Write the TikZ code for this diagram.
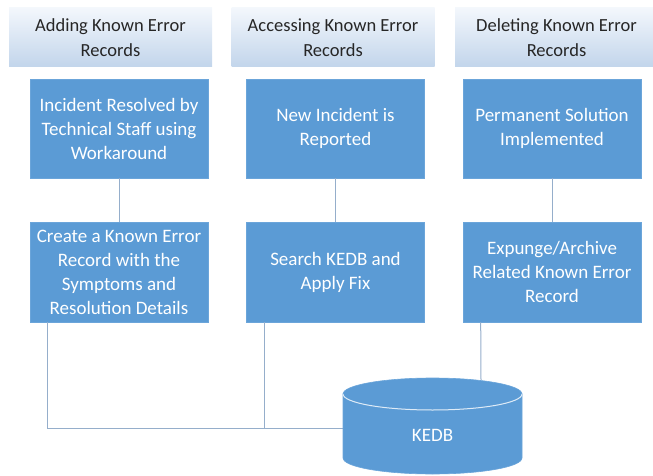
\documentclass[tikz,border=0pt]{standalone}
\usepackage{fontspec}
\setmainfont{Carlito}
\definecolor{boxblue}{HTML}{5B9BD5}
\definecolor{boxedge}{HTML}{6BA5DA}
\definecolor{hdrtop}{HTML}{F3F7FC}
\definecolor{hdrbot}{HTML}{C2D5EB}
\definecolor{linecol}{HTML}{95AECB}
\definecolor{hdrtext}{HTML}{262626}
\begin{document}
\begin{tikzpicture}[x=1pt,y=-1pt,
  hdr/.style={rectangle, minimum width=203pt, minimum height=59pt, inner sep=0pt,
    top color=hdrtop, bottom color=hdrbot, text=hdrtext, align=center,
    font=\fontsize{18.5}{25}\selectfont},
  stepbox/.style={rectangle, fill=boxblue, draw=boxedge, line width=0.6pt,
    minimum width=178pt, inner sep=0pt, text=white, align=center,
    font=\fontsize{19}{24}\selectfont},
  conn/.style={draw=linecol, line width=1pt},
  cyl/.style={fill=boxblue, draw=boxedge, line width=0.6pt}]
\useasboundingbox (0,0) rectangle (653,476);

% headers
\node[hdr] (h1) at (110.5,37.5) {Adding Known Error\\Records};
\node[hdr] (h2) at (333,37.5) {Accessing Known Error\\Records};
\node[hdr] (h3) at (556.5,37.5) {Deleting Known Error\\Records};

% first row
\node[stepbox, minimum height=99pt] (a1) at (119,128.5) {Incident Resolved by\\Technical Staff using\\Workaround};
\node[stepbox, minimum height=99pt] (a2) at (335.5,128.5) {New Incident is\\Reported};
\node[stepbox, minimum height=99pt] (a3) at (552,128.5) {Permanent Solution\\Implemented};

% second row
\node[stepbox, minimum height=100pt] (c1) at (119,272) {Create a Known Error\\Record with the\\Symptoms and\\Resolution Details};
\node[stepbox, minimum height=100pt] (c2) at (335.5,272) {Search KEDB and\\Apply Fix};
\node[stepbox, minimum height=100pt] (c3) at (552,272) {Expunge/Archive\\Related Known Error\\Record};

% KEDB anchor node
\node[minimum width=179pt, inner sep=0pt] (kedb) at (432.5,435) {};
\coordinate (kedbin) at ([yshift=7pt]kedb.west);
\coordinate (kedbtop) at (481,380);
\coordinate (c1out) at ([xshift=18pt]c1.south west);
\coordinate (c2out) at ([xshift=18pt]c2.south west);
\coordinate (c3out) at ([xshift=18pt]c3.south west);

% connectors
\draw[conn] (a1) -- (c1);
\draw[conn] (a2) -- (c2);
\draw[conn] (a3) -- (c3);
\draw[conn] (c1out) |- (kedbin);
\draw[conn] (c2out) -- (c2out |- kedbin);
\draw[conn] (c3out) -- (kedbtop);

% cylinder
\path[cyl] (343,394) -- (343,458)
  arc[start angle=180, end angle=360, x radius=89.5pt, y radius=16pt]
  -- (522,394) -- cycle;
\path[cyl] (432.5,394) ellipse [x radius=89.5pt, y radius=16pt];
\draw[white!80!boxblue, line width=1pt] (343,394)
  arc[start angle=180, end angle=360, x radius=89.5pt, y radius=16pt];
\node[text=white, font=\fontsize{19}{24}\selectfont] at (kedb) {KEDB};
\end{tikzpicture}
\end{document}
